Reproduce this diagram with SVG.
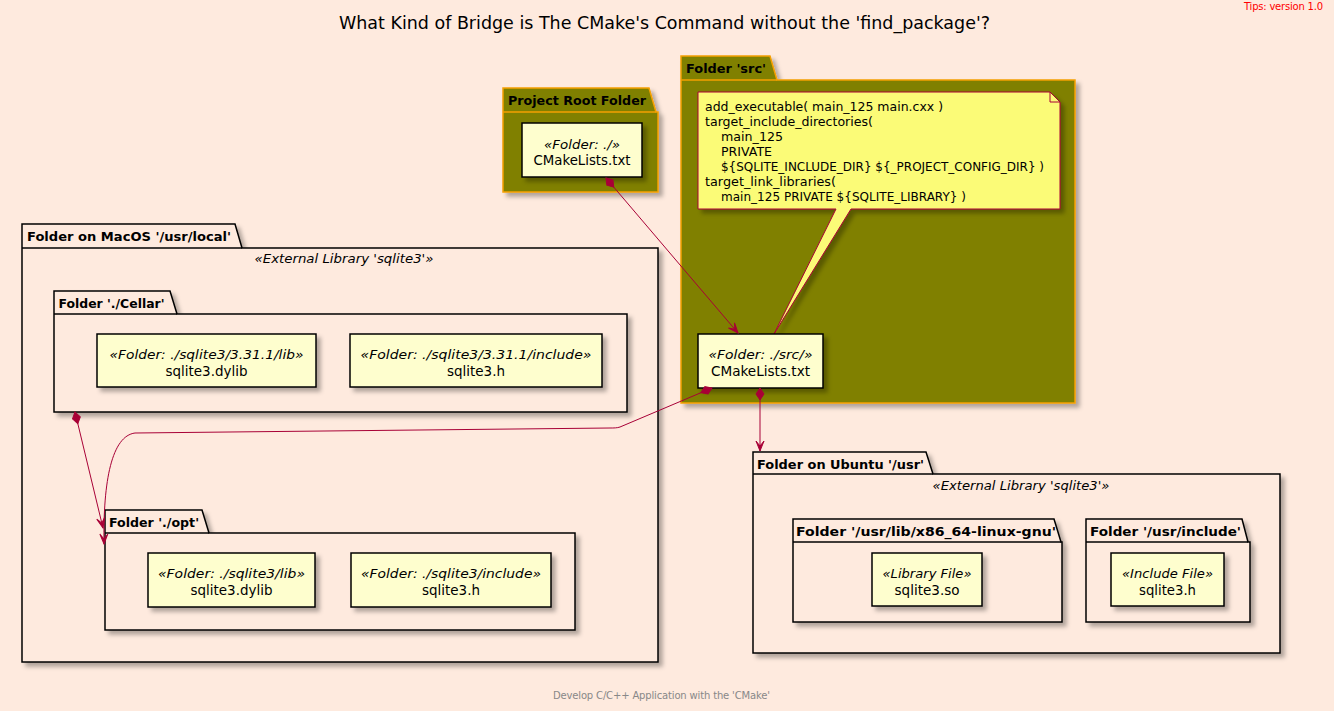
<svg xmlns="http://www.w3.org/2000/svg" width="1334" height="711" viewBox="0 0 1334 711">
<defs>
<style>
.t{font-family:"DejaVu Sans","Liberation Sans",sans-serif;fill:#000}
.tab{font-size:13px;font-weight:bold}
.st{font-size:13px;font-style:italic}
.nm{font-size:14px}
.note{font-size:13px}
.fold{fill:#FEEADE;stroke:#000;stroke-width:1.5;filter:url(#sh)}
.olive{fill:#808000;stroke:#F5A000;stroke-width:1.5;filter:url(#sh)}
.line{fill:none;stroke:#000;stroke-width:1.5}
.oline{fill:none;stroke:#F5A000;stroke-width:1.5}
.node{fill:#FEFECE;stroke:#000;stroke-width:1.5;filter:url(#sh)}
.conn{fill:none;stroke:#A80036;stroke-width:1;marker-start:url(#dia);marker-end:url(#arr)}
</style>
<filter id="sh" x="-10%" y="-10%" width="130%" height="130%">
<feDropShadow dx="4" dy="4" stdDeviation="2" flood-color="#000" flood-opacity="0.3"/>
</filter>
<marker id="arr" markerUnits="userSpaceOnUse" markerWidth="12" markerHeight="10" refX="0" refY="0" orient="auto" style="overflow:visible">
<path d="M0,0 L-10,-4 L-5,0 L-10,4 Z" fill="#A80036" stroke="#A80036" stroke-width="1"/>
</marker>
<marker id="dia" markerUnits="userSpaceOnUse" markerWidth="14" markerHeight="10" refX="0" refY="0" orient="auto" style="overflow:visible">
<path d="M0,0 L6,-4 L12,0 L6,4 Z" fill="#A80036" stroke="#A80036" stroke-width="1"/>
</marker>
</defs>
<rect x="0" y="0" width="1334" height="711" fill="#FEEADE"/>
<text class="t" x="1323" y="10" text-anchor="end" font-size="10" fill="#FF0000" style="fill:#FF0000" textLength="79">Tips: version 1.0</text>
<text class="t" x="664.5" y="29" text-anchor="middle" font-size="18" textLength="651" lengthAdjust="spacingAndGlyphs">What Kind of Bridge is The CMake's Command without the 'find_package'?</text>

<g id="root-folder">
<path class="olive" d="M503,112 V88 H649 L656,112 H658 V192 H503 Z"/>
<path class="oline" d="M503,112 H656"/>
<text class="t tab" x="508" y="105" textLength="138" lengthAdjust="spacingAndGlyphs">Project Root Folder</text>
</g>
<g id="root-cmake">
<rect class="node" x="522" y="123" width="120" height="54"/>
<text class="t st" x="582" y="149" text-anchor="middle" textLength="76" lengthAdjust="spacingAndGlyphs">«Folder: ./»</text>
<text class="t nm" x="582" y="165" text-anchor="middle" textLength="97" lengthAdjust="spacingAndGlyphs">CMakeLists.txt</text>
</g>

<g id="src-folder">
<path class="olive" d="M681,80 V56 H770 L777,80 H1075 V403 H681 Z"/>
<path class="oline" d="M681,80 H777"/>
<text class="t tab" x="686" y="73" textLength="80" lengthAdjust="spacingAndGlyphs">Folder 'src'</text>
</g>
<g id="src-note">
<path d="M698,92 H1050 L1060,102 V209 H851 L774,334 L836,209 H698 Z" fill="#FBFB77" stroke="#A80036" stroke-width="1" filter="url(#sh)"/>
<path d="M1050,92 V102 H1060" fill="none" stroke="#A80036" stroke-width="1"/>
<g class="t note">
<text x="705" y="111" textLength="238" lengthAdjust="spacingAndGlyphs">add_executable( main_125 main.cxx )</text>
<text x="705" y="126" textLength="168" lengthAdjust="spacingAndGlyphs">target_include_directories(</text>
<text x="721" y="141" textLength="62" lengthAdjust="spacingAndGlyphs">main_125</text>
<text x="721" y="156" textLength="51" lengthAdjust="spacingAndGlyphs">PRIVATE</text>
<text x="721" y="171" textLength="323" lengthAdjust="spacingAndGlyphs">${SQLITE_INCLUDE_DIR} ${_PROJECT_CONFIG_DIR} )</text>
<text x="705" y="186" textLength="131" lengthAdjust="spacingAndGlyphs">target_link_libraries(</text>
<text x="721" y="201" textLength="245" lengthAdjust="spacingAndGlyphs">main_125 PRIVATE ${SQLITE_LIBRARY} )</text>
</g>
</g>
<g id="src-cmake">
<rect class="node" x="698" y="334" width="125" height="54"/>
<text class="t st" x="760.5" y="359" text-anchor="middle" textLength="104" lengthAdjust="spacingAndGlyphs">«Folder: ./src/»</text>
<text class="t nm" x="760.5" y="376" text-anchor="middle" textLength="99" lengthAdjust="spacingAndGlyphs">CMakeLists.txt</text>
</g>

<g id="macos-folder">
<path class="fold" d="M22,248 V224 H235 L242,248 H658 V662 H22 Z"/>
<path class="line" d="M22,248 H242"/>
<text class="t tab" x="27" y="241" textLength="204" lengthAdjust="spacingAndGlyphs">Folder on MacOS '/usr/local'</text>
<text class="t st" x="344" y="263" text-anchor="middle" textLength="179" lengthAdjust="spacingAndGlyphs">«External Library 'sqlite3'»</text>
</g>
<g id="cellar-folder">
<path class="fold" d="M54,314 V291 H170 L177,314 H627 V412 H54 Z"/>
<path class="line" d="M54,314 H177"/>
<text class="t tab" x="58.5" y="308" textLength="106" lengthAdjust="spacingAndGlyphs">Folder './Cellar'</text>
</g>
<g id="cellar-lib">
<rect class="node" x="97" y="334" width="219" height="53"/>
<text class="t st" x="206.5" y="359" text-anchor="middle" textLength="194" lengthAdjust="spacingAndGlyphs">«Folder: ./sqlite3/3.31.1/lib»</text>
<text class="t nm" x="206.5" y="376" text-anchor="middle" textLength="82" lengthAdjust="spacingAndGlyphs">sqlite3.dylib</text>
</g>
<g id="cellar-include">
<rect class="node" x="350" y="334" width="252" height="53"/>
<text class="t st" x="476" y="359" text-anchor="middle" textLength="231" lengthAdjust="spacingAndGlyphs">«Folder: ./sqlite3/3.31.1/include»</text>
<text class="t nm" x="476" y="376" text-anchor="middle" textLength="58" lengthAdjust="spacingAndGlyphs">sqlite3.h</text>
</g>
<g id="opt-folder">
<path class="fold" d="M105,533 V510 H202 L209,533 H575 V630 H105 Z"/>
<path class="line" d="M105,533 H209"/>
<text class="t tab" x="109" y="527" textLength="90" lengthAdjust="spacingAndGlyphs">Folder './opt'</text>
</g>
<g id="opt-lib">
<rect class="node" x="148" y="553" width="167" height="54"/>
<text class="t st" x="231.5" y="578" text-anchor="middle" textLength="147" lengthAdjust="spacingAndGlyphs">«Folder: ./sqlite3/lib»</text>
<text class="t nm" x="231.5" y="595" text-anchor="middle" textLength="82" lengthAdjust="spacingAndGlyphs">sqlite3.dylib</text>
</g>
<g id="opt-include">
<rect class="node" x="351" y="553" width="200" height="54"/>
<text class="t st" x="451" y="578" text-anchor="middle" textLength="180" lengthAdjust="spacingAndGlyphs">«Folder: ./sqlite3/include»</text>
<text class="t nm" x="451" y="595" text-anchor="middle" textLength="58" lengthAdjust="spacingAndGlyphs">sqlite3.h</text>
</g>

<g id="ubuntu-folder">
<path class="fold" d="M753,474 V452 H926 L933,474 H1280 V653 H753 Z"/>
<path class="line" d="M753,474 H933"/>
<text class="t tab" x="757" y="469" textLength="167" lengthAdjust="spacingAndGlyphs">Folder on Ubuntu '/usr'</text>
<text class="t st" x="1021" y="490" text-anchor="middle" textLength="177" lengthAdjust="spacingAndGlyphs">«External Library 'sqlite3'»</text>
</g>
<g id="gnu-folder">
<path class="fold" d="M793,542 V519 H1054 L1061,542 H1062 V622 H793 Z"/>
<path class="line" d="M793,542 H1061"/>
<text class="t tab" x="796" y="536" textLength="260" lengthAdjust="spacingAndGlyphs">Folder '/usr/lib/x86_64-linux-gnu'</text>
</g>
<g id="usr-include-folder">
<path class="fold" d="M1086,542 V519 H1242 L1248,542 H1250 V622 H1086 Z"/>
<path class="line" d="M1086,542 H1248"/>
<text class="t tab" x="1090" y="536" textLength="151" lengthAdjust="spacingAndGlyphs">Folder '/usr/include'</text>
</g>
<g id="ubuntu-so">
<rect class="node" x="872" y="553" width="110" height="53"/>
<text class="t st" x="927" y="578" text-anchor="middle" textLength="89" lengthAdjust="spacingAndGlyphs">«Library File»</text>
<text class="t nm" x="927" y="595" text-anchor="middle" textLength="65" lengthAdjust="spacingAndGlyphs">sqlite3.so</text>
</g>
<g id="ubuntu-h">
<rect class="node" x="1111" y="553" width="113" height="53"/>
<text class="t st" x="1167.5" y="578" text-anchor="middle" textLength="91" lengthAdjust="spacingAndGlyphs">«Include File»</text>
<text class="t nm" x="1167.5" y="595" text-anchor="middle" textLength="57" lengthAdjust="spacingAndGlyphs">sqlite3.h</text>
</g>

<g id="connectors">
<path class="conn" d="M606,178 L738,333"/>
<path class="conn" d="M712,388 L620,427 C617,428 614,428 610,428 L135,433 C112,436 103,480 104,544"/>
<path class="conn" d="M760,388 L760,451"/>
<path class="conn" d="M75,412 L103,528"/>
</g>

<text class="t" x="661.5" y="699" text-anchor="middle" font-size="10" style="fill:#888888" textLength="217">Develop C/C++ Application with the 'CMake'</text>
</svg>
